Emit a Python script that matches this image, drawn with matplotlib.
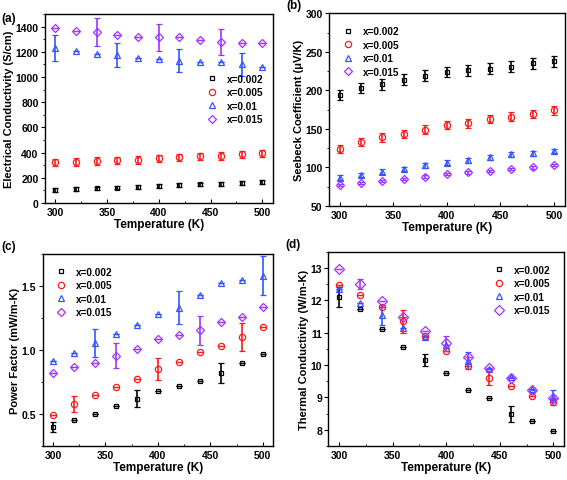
import matplotlib.pyplot as plt
from matplotlib.ticker import MultipleLocator, AutoMinorLocator

plt.rcParams['font.family'] = ['Liberation Sans', 'DejaVu Sans']
plt.rcParams['font.weight'] = 'bold'

temp = [300, 320, 340, 360, 380, 400, 420, 440, 460, 480, 500]
labels = ['x=0.002', 'x=0.005', 'x=0.01', 'x=0.015']
colors = ['black', '#ff1a1a', '#3355ff', '#a033ff']
markers = ['s', 'o', '^', 'D']

# (a) electrical conductivity
sig_002 = [105, 110, 115, 122, 128, 133, 140, 147, 153, 160, 168]
sig_005 = [321, 326, 331, 337, 342, 353, 361, 369, 374, 385, 393]
sig_01 = [1230, 1202, 1181, 1176, 1154, 1146, 1128, 1122, 1117, 1100, 1080]
sig_015 = [1387, 1368, 1355, 1336, 1320, 1315, 1315, 1293, 1275, 1267, 1267]
sig_err_002 = [15] * 11
sig_err_005 = [30] * 11
sig_err_01 = [100, 0, 0, 95, 0, 0, 92, 0, 0, 90, 0]
sig_err_015 = [0, 0, 110, 0, 0, 107, 0, 0, 103, 0, 0]

# (b) Seebeck coefficient
S_002 = [194, 203, 208, 214, 219, 224, 226, 228, 231, 235, 238]
S_005 = [124, 133, 139, 143.5, 149, 155, 157, 163, 166, 169, 174]
S_01 = [86.6, 90, 94.4, 98, 102.6, 106, 109, 113, 117, 118, 121]
S_015 = [76.7, 79.7, 82, 85, 88, 91.4, 93.5, 95, 98, 100, 103]
S_err_002 = [7] * 11
S_err_005 = [5.5] * 11
S_err_01 = [3] * 11
S_err_015 = [1.5] * 11

# (c) power factor
PF_002 = [0.40, 0.455, 0.50, 0.56, 0.62, 0.675, 0.715, 0.76, 0.82, 0.90, 0.965]
PF_005 = [0.495, 0.58, 0.65, 0.71, 0.77, 0.85, 0.905, 0.98, 1.03, 1.10, 1.18]
PF_01 = [0.91, 0.975, 1.055, 1.125, 1.195, 1.28, 1.33, 1.43, 1.52, 1.545, 1.58]
PF_015 = [0.82, 0.87, 0.895, 0.955, 1.01, 1.085, 1.12, 1.155, 1.215, 1.255, 1.335]
PF_err_002 = [0.04, 0, 0, 0, 0.065, 0, 0, 0, 0.08, 0, 0]
PF_err_005 = [0, 0.062, 0, 0, 0, 0.088, 0, 0, 0, 0.11, 0]
PF_err_01 = [0, 0, 0.11, 0, 0, 0, 0.13, 0, 0, 0, 0.15]
PF_err_015 = [0, 0, 0, 0.095, 0, 0, 0, 0.113, 0, 0, 0]

# (d) thermal conductivity
k_002 = [12.11, 11.75, 11.12, 10.55, 10.15, 9.75, 9.22, 8.99, 8.49, 8.28, 7.95]
k_005 = [12.47, 12.18, 11.79, 11.35, 10.9, 10.43, 9.97, 9.61, 9.35, 9.04, 8.85]
k_01 = [12.37, 11.93, 11.55, 11.14, 10.86, 10.63, 10.14, 9.89, 9.64, 9.25, 9.0]
k_015 = [12.98, 12.51, 11.98, 11.5, 11.07, 10.68, 10.26, 9.92, 9.59, 9.24, 8.98]
k_err_002 = [0.3, 0, 0, 0, 0.18, 0, 0, 0, 0.25, 0, 0]
k_err_005 = [0, 0, 0, 0.35, 0, 0, 0, 0.22, 0, 0, 0]
k_err_01 = [0, 0, 0.3, 0, 0, 0, 0.27, 0, 0, 0, 0.23]
k_err_015 = [0, 0.15, 0, 0, 0, 0.23, 0, 0, 0, 0, 0]

fig = plt.figure(figsize=(5.67, 4.81), dpi=100)

panels = [
    ([0.079, 0.576, 0.402, 0.393], [sig_002, sig_005, sig_01, sig_015],
     [sig_err_002, sig_err_005, sig_err_01, sig_err_015],
     'Electrical Conductivity (S/cm)', (0, 1500), 200, '(a)',
     dict(loc='center right', bbox_to_anchor=(1.0, 0.55)), '{x:.0f}'),
    ([0.580, 0.570, 0.416, 0.400], [S_002, S_005, S_01, S_015],
     [S_err_002, S_err_005, S_err_01, S_err_015],
     'Seebeck Coefficient (\u03bcV/K)', (50, 300), 50, '(b)',
     dict(loc='upper left', bbox_to_anchor=(0.02, 0.98)), '{x:.0f}'),
    ([0.075, 0.071, 0.407, 0.399], [PF_002, PF_005, PF_01, PF_015],
     [PF_err_002, PF_err_005, PF_err_01, PF_err_015],
     'Power Factor (mW/m-K)', (0.25, 1.75), 0.5, '(c)',
     dict(loc='upper left', bbox_to_anchor=(0.02, 0.98)), '{x:.1f}'),
    ([0.579, 0.071, 0.416, 0.403], [k_002, k_005, k_01, k_015],
     [k_err_002, k_err_005, k_err_01, k_err_015],
     'Thermal Conductivity (W/m-K)', (7.5, 13.5), 1, '(d)',
     dict(loc='upper right', bbox_to_anchor=(0.98, 0.98)), '{x:.0f}'),
]

for rect, ys, errs, ylabel, ylim, ystep, tag, leg_kw, fmt in panels:
    ax = fig.add_axes(rect)
    big = tag == '(d)'
    handles = []
    for y, e, c, m, lab in zip(ys, errs, colors, markers, labels):
        ms = {'s': 3.5, 'o': 4.5, '^': 4.5, 'D': 5.5 if big else 4}[m]
        cont = ax.errorbar(temp, y, yerr=e, fmt=m, mfc='none', mec=c, ms=ms, mew=0.9,
                           ecolor=c, elinewidth=1.2, capsize=2, capthick=1.2, label=lab)
        handles.append(cont[0])
    ax.set_xlim(290, 510)
    ax.set_ylim(*ylim)
    ax.xaxis.set_major_locator(MultipleLocator(50))
    ax.xaxis.set_minor_locator(AutoMinorLocator(2))
    ax.yaxis.set_major_locator(MultipleLocator(ystep))
    ax.yaxis.set_minor_locator(AutoMinorLocator(2))
    ax.yaxis.set_major_formatter(fmt)
    ax.tick_params(axis='x', which='both', direction='in', labelsize=7.5, pad=3)
    ax.tick_params(axis='y', which='both', direction='out', labelsize=7.5, pad=1.5)
    ax.tick_params(which='major', length=3, width=0.8)
    ax.tick_params(which='minor', length=1.5, width=0.6)
    for sp in ax.spines.values():
        sp.set_linewidth(1.0)
    ax.set_xlabel('Temperature (K)', fontsize=8.5, fontweight='bold', labelpad=1)
    ax.set_ylabel(ylabel, fontsize=8, fontweight='bold', labelpad=1)
    leg = ax.legend(handles=handles, labels=labels, frameon=False, fontsize=7.2,
                    handletextpad=1.0, labelspacing=0.35, handlelength=1.0, **leg_kw)
    for t in leg.get_texts():
        t.set_fontweight('bold')
    pos = ax.get_position()
    fig.text(0.003 if tag in ('(a)', '(c)') else pos.x0 - 0.075, pos.y1 + 0.005, tag,
             fontsize=8.5, fontweight='bold', va='bottom' if tag != '(a)' else 'top')

fig.savefig('out.png', dpi=100)
